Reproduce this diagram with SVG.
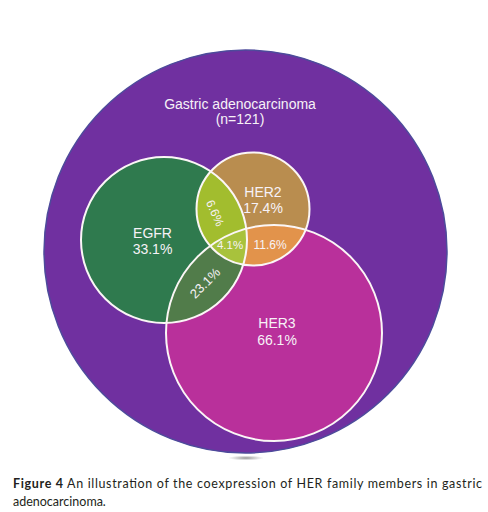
<svg xmlns="http://www.w3.org/2000/svg" width="488" height="512" viewBox="0 0 488 512">
<style>
.lbl{font-family:"Liberation Sans",Arial,sans-serif;fill:#f7f2f7;text-anchor:middle}
.ring{fill:none;stroke:#fbf6f6;stroke-width:2}
.cap{font-family:Lato,"Open Sans","Liberation Sans",sans-serif;font-size:12.5px;fill:#231f20}
</style>
<defs>
<clipPath id="cE"><circle cx="164" cy="240" r="83"/></clipPath>
<clipPath id="cH2"><circle cx="253" cy="209" r="56.5"/></clipPath>
<clipPath id="cH3"><circle cx="274" cy="333" r="108"/></clipPath>
<radialGradient id="sh" cx="0.5" cy="0.5" r="0.5">
<stop offset="0" stop-color="#777" stop-opacity="0.8"/>
<stop offset="1" stop-color="#999" stop-opacity="0"/>
</radialGradient>
</defs>
<rect width="488" height="512" fill="#ffffff"/>
<ellipse cx="246" cy="458" rx="18" ry="2.5" fill="url(#sh)"/>
<g id="gastric">
<circle cx="245.5" cy="251.5" r="201.5" fill="#7030a0" stroke="#4d4b9b" stroke-width="1.5"/>
<text class="lbl" x="240" y="108.5" font-size="14">Gastric adenocarcinoma</text>
<text class="lbl" x="240" y="123.5" font-size="14">(n=121)</text>
</g>
<g id="egfr">
<circle cx="164" cy="240" r="83" fill="#2f7a4e"/>
</g>
<g id="her2">
<circle cx="253" cy="209" r="56.5" fill="#b98d4f"/>
</g>
<g id="her3">
<circle cx="274" cy="333" r="108" fill="#b9309b"/>
</g>
<g id="egfr-her2">
<circle cx="253" cy="209" r="56.5" fill="#a2bd2e" clip-path="url(#cE)"/>
</g>
<g id="her2-her3">
<circle cx="253" cy="209" r="56.5" fill="#e2934b" clip-path="url(#cH3)"/>
</g>
<g id="egfr-her3">
<circle cx="164" cy="240" r="83" fill="#517c4a" clip-path="url(#cH3)"/>
</g>
<g id="all3" clip-path="url(#cE)">
<circle cx="253" cy="209" r="56.5" fill="#a8c23c" clip-path="url(#cH3)"/>
</g>
<g id="outlines">
<circle class="ring" cx="164" cy="240" r="83"/>
<circle class="ring" cx="253" cy="209" r="56.5"/>
<circle class="ring" cx="274" cy="333" r="108"/>
</g>
<g id="labels">
<text class="lbl" x="152.5" y="238" font-size="14">EGFR</text>
<text class="lbl" x="152.5" y="254" font-size="14">33.1%</text>
<text class="lbl" x="263" y="197" font-size="14">HER2</text>
<text class="lbl" x="263" y="213" font-size="14">17.4%</text>
<text class="lbl" x="277" y="328" font-size="14">HER3</text>
<text class="lbl" x="277" y="345" font-size="14">66.1%</text>
<text class="lbl" x="230" y="249" font-size="11.5">4.1%</text>
<text class="lbl" x="270" y="249" font-size="12">11.6%</text>
<text class="lbl" font-size="12" transform="translate(215,213) rotate(66)" dy="4">6.6%</text>
<text class="lbl" font-size="13" transform="translate(205,283) rotate(-45)" dy="4.5">23.1%</text>
</g>
<g id="caption">
<text class="cap" x="13" y="488" textLength="469" lengthAdjust="spacing"><tspan font-weight="bold">Figure 4</tspan> An illustration of the coexpression of HER family members in gastric</text>
<text class="cap" x="13" y="505.5">adenocarcinoma.</text>
</g>
</svg>
